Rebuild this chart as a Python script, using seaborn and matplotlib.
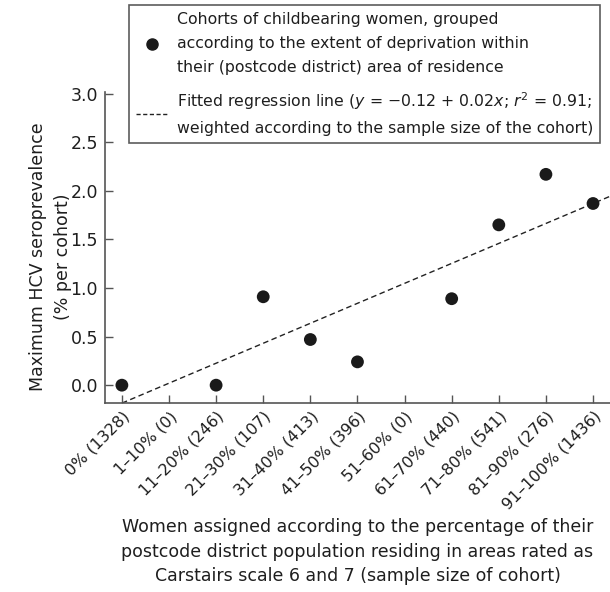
import numpy as np
import pandas as pd
import matplotlib
matplotlib.use("Agg")
import matplotlib.pyplot as plt
import seaborn as sns
from matplotlib.lines import Line2D

# data
bands = ["0%", "1–10%", "11–20%", "21–30%", "31–40%", "41–50%",
         "51–60%", "61–70%", "71–80%", "81–90%", "91–100%"]
sample_sizes = [1328, 0, 246, 107, 413, 396, 0, 440, 541, 276, 1436]
prevalence = [0.0, np.nan, 0.0, 0.91, 0.47, 0.24, np.nan, 0.89, 1.65, 2.17, 1.87]
# fitted line in category units (as drawn)
fit_intercept = -0.185
fit_slope = 0.2055

tick_labels = [f"{b} ({n})" for b, n in zip(bands, sample_sizes)]
pos = np.arange(len(bands))
df = pd.DataFrame({"pos": pos, "prev": prevalence}).dropna()

sns.set_theme(style="ticks")
plt.rcParams["font.family"] = ["DejaVu Sans"]
plt.rcParams["text.color"] = "#1e1e1e"
plt.rcParams["axes.labelcolor"] = "#1e1e1e"
plt.rcParams["xtick.labelcolor"] = "#1e1e1e"
plt.rcParams["ytick.labelcolor"] = "#1e1e1e"

fig = plt.figure(figsize=(6.10, 5.92), dpi=100)
ax = fig.add_axes([0.172, 0.319, 0.828, 0.526])

xfit = np.array([0.0, 10.5])
fit_df = pd.DataFrame({"x": xfit, "y": fit_intercept + fit_slope * xfit})
sns.lineplot(data=fit_df, x="x", y="y", ax=ax, color="#222222",
             linestyle=(0, (4, 2.5)), linewidth=1.0)
sns.scatterplot(data=df, x="pos", y="prev", ax=ax, color="#1a1a1a",
                s=85, edgecolor="none", zorder=3)

yt = [0, 0.5, 1.0, 1.5, 2.0, 2.5, 3.0]
ax.set_xlim(-0.36, 10.36)
ax.set_ylim(-0.185, 3.02)
ax.set_yticks(yt)
ax.set_yticklabels([f"{v:.1f}" for v in yt])
ax.set_xticks(pos)
ax.set_xticklabels(tick_labels, rotation=45, ha="right",
                   rotation_mode="anchor", fontsize=11.5)
ax.tick_params(axis="y", direction="in", length=6, width=1,
               color="#555555", labelsize=12.5, pad=5)
ax.tick_params(axis="x", direction="in", length=6, width=1,
               color="#555555", pad=4)
for s in ["top", "right"]:
    ax.spines[s].set_visible(False)
for s in ["left", "bottom"]:
    ax.spines[s].set_color("#555555")
    ax.spines[s].set_linewidth(1.2)

ax.set_ylabel("Maximum HCV seroprevalence\n(% per cohort)", fontsize=12.5,
              linespacing=1.5)
ax.yaxis.set_label_coords(-0.066, 0.47)
ax.set_xlabel("Women assigned according to the percentage of their\n"
              "postcode district population residing in areas rated as\n"
              "Carstairs scale 6 and 7 (sample size of cohort)",
              fontsize=12.5, linespacing=1.45)
ax.xaxis.set_label_coords(0.5, -0.37)

handles = [
    Line2D([], [], marker="o", color="#1a1a1a", linestyle="none",
           markersize=8),
    Line2D([], [], color="#222222", linestyle=(0, (3, 1.8)), linewidth=1.0),
]
labels = [
    "Cohorts of childbearing women, grouped\n"
    "according to the extent of deprivation within\n"
    "their (postcode district) area of residence",
    "Fitted regression line ($y$ = −0.12 + 0.02$x$; $r^2$ = 0.91;\n"
    "weighted according to the sample size of the cohort)",
]
leg = fig.legend(handles, labels, loc="upper right",
                 bbox_to_anchor=(0.984, 0.992), frameon=True,
                 fancybox=False, fontsize=11.3, handlelength=2.0,
                 handletextpad=0.6, borderpad=0.45, labelspacing=1.0,
                 borderaxespad=0)
for t in leg.get_texts():
    t.set_linespacing(1.75)
leg.get_frame().set_edgecolor("#333333")
leg.get_frame().set_linewidth(1.2)

fig.savefig("out.png", dpi=100)
